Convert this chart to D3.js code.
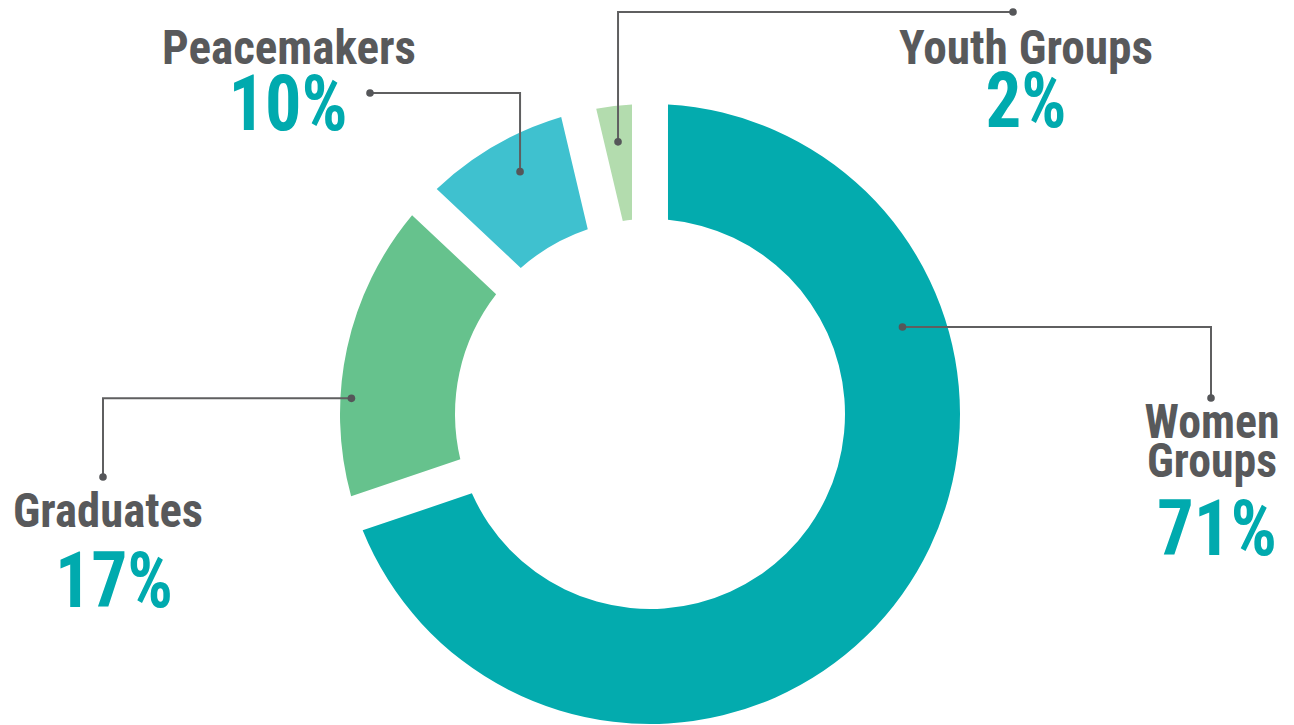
<!DOCTYPE html>
<html>
<head>
<meta charset="utf-8">
<script src="https://cdn.jsdelivr.net/npm/d3@7"></script>
<style>
  body { margin: 0; background: #fff; }
  text { font-family: "Roboto Condensed", Roboto, sans-serif; font-weight: 700; }
</style>
</head>
<body>
<div id="container"></div>
<script>
var categories = ["Women Groups", "Graduates", "Peacemakers", "Youth Groups"];
var shares = [69.8, 17.2, 9.3, 3.7];
var percentLabels = ["71%", "17%", "10%", "2%"];
var colors = ["#03abae", "#66c28d", "#3fc1cf", "#b3dcae"];

var w = 1294, h = 725;
var cx = 650, cy = 414;
var innerR = 195, outerR = 310;

var svg = d3.select("div#container")
            .append("svg")
            .attr("width", w)
            .attr("height", h);

var pie = d3.pie().sort(null).value(function(d) { return d; });
var arc = d3.arc()
            .innerRadius(innerR)
            .outerRadius(outerR)
            .padRadius(outerR)
            .padAngle(36 / outerR);

var ring = svg.append("g").attr("transform", "translate(" + cx + "," + cy + ")");
ring.selectAll("path")
    .data(pie(shares))
    .enter()
    .append("path")
    .attr("d", arc)
    .attr("fill", function(d, i) { return colors[i]; });

// annotation layout: anchor on slice (angle deg, radius), elbow route, text block
var notes = [
  {angle: 71, r: 267, route: "hv", ex: 1211, ey: 398, tx: 1212,
   lines: [["Women", 438, 135], ["Groups", 477, 130]], pct: [1217, 555, 120]},
  {angle: 273, r: 299, route: "hv", ex: 103, ey: 477, tx: 108,
   lines: [["Graduates", 527, 190]], pct: [114, 607, 118]},
  {angle: 331.8, r: 275, route: "vh", ex: 370, ey: 93, tx: 289,
   lines: [["Peacemakers", 64, 254]], pct: [288, 130, 119]},
  {angle: 353.3, r: 274, route: "vh", ex: 1013, ey: 12, tx: 1026,
   lines: [["Youth Groups", 64, 254]], pct: [1026, 127, 81]}
];

var lineColor = "#5f5f60";
var g = svg.append("g");

notes.forEach(function(n, i) {
  var p = d3.pointRadial(n.angle * Math.PI / 180, n.r);
  var x0 = cx + p[0], y0 = cy + p[1];
  var mid = n.route === "hv" ? [n.ex, y0] : [x0, n.ey];
  g.append("polyline")
   .attr("points", [[x0, y0], mid, [n.ex, n.ey]].map(function(q) { return q.join(","); }).join(" "))
   .attr("fill", "none")
   .attr("stroke", lineColor)
   .attr("stroke-width", 2);
  [[x0, y0], [n.ex, n.ey]].forEach(function(q) {
    g.append("circle").attr("cx", q[0]).attr("cy", q[1]).attr("r", 3.8).attr("fill", "#555659");
  });

  n.lines.forEach(function(l) {
    g.append("text")
     .attr("x", n.tx)
     .attr("y", l[1])
     .attr("text-anchor", "middle")
     .attr("font-size", 48)
     .attr("fill", "#58595b")
     .attr("textLength", l[2])
     .attr("lengthAdjust", "spacingAndGlyphs")
     .text(l[0]);
  });
  g.append("text")
   .attr("x", n.pct[0])
   .attr("y", n.pct[1])
   .attr("text-anchor", "middle")
   .attr("font-size", 77)
   .attr("fill", "#00aaae")
   .attr("textLength", n.pct[2])
   .attr("lengthAdjust", "spacingAndGlyphs")
   .text(percentLabels[i]);
});
</script>
</body>
</html>
